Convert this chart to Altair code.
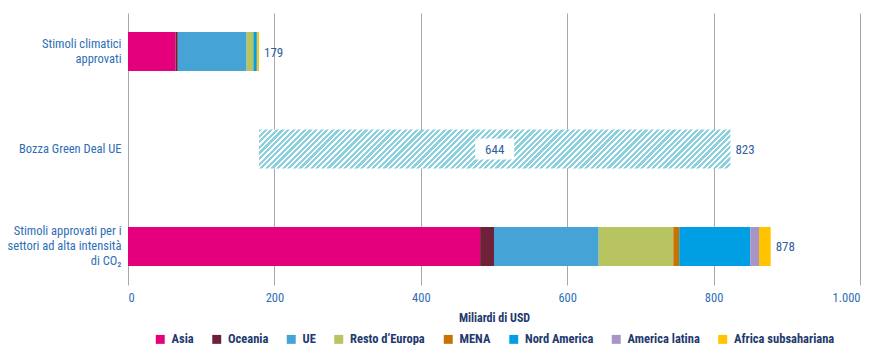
import altair as alt
import pandas as pd

# ---------------- data ----------------
categories = [
    "Stimoli climatici\napprovati",
    "Bozza Green Deal UE",
    "Stimoli approvati per i\nsettori ad alta intensità\ndi CO₂",
]
regions = ["Asia", "Oceania", "UE", "Resto d’Europa", "MENA",
           "Nord America", "America latina", "Africa subsahariana"]
region_colors = ["#E4007C", "#70213A", "#45A3D5", "#B7C45F", "#C67300",
                 "#009FE3", "#A895C8", "#FFC300"]
climate_values = [65, 3, 94, 9, 0.5, 4.5, 0.5, 2.5]
carbon_values = [481, 19, 143, 102, 8, 97, 12, 16]
green_deal_start = [179]
green_deal_end = [823]
green_deal_label = ["644"]
totals = [179, 823, 878]
x_ticks = [0, 200, 400, 600, 800, 1000]

# ---------------- tables ----------------
rows = []
for i, r in enumerate(regions):
    rows.append({"cat": categories[0], "region": r, "order": i, "value": climate_values[i]})
    rows.append({"cat": categories[2], "region": r, "order": i, "value": carbon_values[i]})
stack_df = pd.DataFrame(rows)
gd_df = pd.DataFrame({"cat": [categories[1]], "start": green_deal_start,
                      "end": green_deal_end, "label": green_deal_label})
tot_df = pd.DataFrame({"cat": categories, "total": totals})

# ---------------- styling ----------------
FONT = "Liberation Sans Narrow, Roboto Condensed, Arial Narrow, Roboto, sans-serif"
AXIS_BLUE = "#2F6EB5"
NAVY = "#1F3A6E"
PLOT_W, PLOT_H = 732, 272
LINE_H = 15

# diagonal hatch via a hard-stop linear gradient (objectBoundingBox units)
bar_w_px = (green_deal_end[0] - green_deal_start[0]) * PLOT_W / 1000.0
bar_h_px = 39.0
r = bar_h_px / bar_w_px
L = 1.1
period_px = 5.6
dt = period_px / (bar_w_px * (1 + r * r)) / L
frac = 0.55
hatch_col = "#8DD0E0"
stops = []
t = 0.0
while t < 1.0:
    a, b, c = t, min(t + frac * dt, 1.0), min(t + dt, 1.0)
    stops += [{"offset": a, "color": hatch_col}, {"offset": b, "color": hatch_col},
              {"offset": b, "color": "#ffffff"}, {"offset": c, "color": "#ffffff"}]
    t += dt
hatch = {"gradient": "linear", "x1": 0, "y1": 0, "x2": L, "y2": L * r, "stops": stops}

label_offset = {
    "condition": [
        {"test": "length(split(datum.value, '\\n')) == 2", "value": -LINE_H / 2},
        {"test": "length(split(datum.value, '\\n')) == 3", "value": -LINE_H},
    ],
    "value": 0,
}

y_enc = alt.Y(
    "cat:N", sort=categories, title=None,
    scale=alt.Scale(domain=categories, paddingInner=0.6, paddingOuter=0.195),
    axis=alt.Axis(labelExpr="split(datum.label, '\\n')", domain=False, ticks=False,
                  labelPadding=7, labelFontSize=12.5, labelColor=AXIS_BLUE,
                  labelLineHeight=LINE_H, labelLimit=200, labelOffset=label_offset,
                  labelAlign="right", labelBaseline="middle"),
)
x_scale = alt.Scale(domain=[0, 1000], nice=False)
x_axis = alt.Axis(values=x_ticks, title="Miliardi di USD", domain=False, ticks=False,
                  labelExpr="replace(format(datum.value, ','), ',', '.')",
                  labelPadding=6, labelFontSize=12.5, labelColor=AXIS_BLUE,
                  titleFontSize=12, titleFontWeight="bold", titleColor=NAVY,
                  titlePadding=9, grid=True, gridColor="#A8A8A8", gridWidth=1)

stack = alt.Chart(stack_df).mark_bar().encode(
    x=alt.X("value:Q", stack="zero", scale=x_scale, axis=x_axis),
    y=y_enc,
    color=alt.Color("region:N", sort=regions,
                    scale=alt.Scale(domain=regions, range=region_colors),
                    legend=alt.Legend(title=None, orient="none", direction="horizontal",
                                      legendX=26, legendY=320, symbolType="square",
                                      symbolSize=80, symbolStrokeWidth=0,
                                      labelFontSize=12.5, labelFontWeight="bold",
                                      labelColor=NAVY, columnPadding=16.5,
                                      labelOffset=5, columns=8)),
    order=alt.Order("order:Q"),
)

gd_bar = alt.Chart(gd_df).mark_bar(fill=hatch, stroke=None).encode(
    x=alt.X("start:Q", scale=x_scale), x2="end:Q", y=y_enc,
)
gd_box = alt.Chart(gd_df).transform_calculate(mid="(datum.start + datum.end) / 2").mark_point(
    shape="M-1,-0.54H1V0.54H-1Z", size=1521, filled=True, fill="white", opacity=1, strokeWidth=0
).encode(x=alt.X("mid:Q", scale=x_scale), y=y_enc)
gd_text = alt.Chart(gd_df).transform_calculate(mid="(datum.start + datum.end) / 2").mark_text(
    fontSize=13, color="#2F5E9E", align="center", baseline="middle", dy=1
).encode(x=alt.X("mid:Q", scale=x_scale), y=y_enc, text="label:N")

tot_text = alt.Chart(tot_df).mark_text(
    fontSize=13, color="#2F5E9E", align="left", baseline="middle", dx=5, dy=1
).encode(x=alt.X("total:Q", scale=x_scale), y=y_enc, text="total:Q")

chart = alt.layer(stack, gd_bar, gd_box, gd_text, tot_text).properties(
    width=PLOT_W, height=PLOT_H,
    autosize=alt.AutoSizeParams(type="none"),
    padding={"left": 120, "top": 5, "right": 15, "bottom": 60},
).configure(font=FONT).configure_view(stroke=None)

chart.save("out.html", embed_options={"renderer": "svg", "actions": False})
